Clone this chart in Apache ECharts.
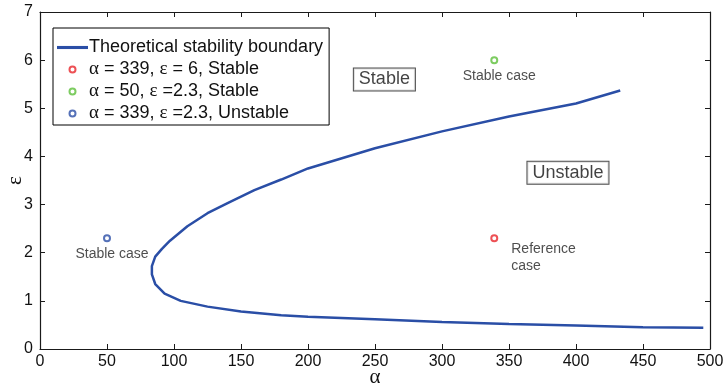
<!DOCTYPE html>
<html>
<head>
<meta charset="utf-8">
<script src="https://cdn.jsdelivr.net/npm/echarts@6/dist/echarts.min.js"></script>
<style>
  html, body { margin: 0; padding: 0; background: #fff; }
  #main { width: 724px; height: 392px; }
</style>
</head>
<body>
<div id="main"></div>
<script>
// boundary curve (alpha, epsilon), lower branch first
var boundaryAlpha = [495, 450, 400, 350, 300, 250, 200, 180, 150, 125, 105, 93, 86, 83.5, 83.5, 86, 91, 97, 110, 125, 140, 160, 180, 200, 250, 300, 350, 400, 433];
var boundaryEps   = [0.44, 0.45, 0.49, 0.52, 0.56, 0.62, 0.67, 0.70, 0.78, 0.88, 1.00, 1.15, 1.35, 1.55, 1.72, 1.92, 2.08, 2.25, 2.55, 2.82, 3.03, 3.30, 3.52, 3.75, 4.17, 4.52, 4.83, 5.10, 5.37];

// the three test cases
var caseNames = ['\u03b1 = 339, \u03b5 = 6, Stable', '\u03b1 = 50, \u03b5 =2.3, Stable', '\u03b1 = 339, \u03b5 =2.3, Unstable'];
var caseColors = ['#e8262a', '#5cbf3a', '#2a4ea6'];
var casePoints = [[339, 2.3], [339, 6], [50, 2.3]];
var caseLabels = ['Reference\ncase', 'Stable case', 'Stable case'];

// region labels
var regionText = ['Stable', 'Unstable'];
var regionPos = [[257, 5.6], [394, 3.66]];

var boundary = boundaryAlpha.map(function (a, i) { return [a, boundaryEps[i]]; });

var chart = echarts.init(document.getElementById('main'));

var caseSeries = caseNames.map(function (name, i) {
    var isRef = i === 0;
    return {
        name: name,
        type: 'scatter',
        symbol: 'emptyCircle',
        symbolSize: 6,
        itemStyle: { color: caseColors[i], borderWidth: 1.5 },
        label: {
            show: true,
            formatter: caseLabels[i],
            position: isRef ? 'right' : 'bottom',
            offset: isRef ? [8, 19] : [5, -2],
            align: isRef ? 'left' : 'center',
            color: '#222',
            fontSize: 14,
            lineHeight: 17,
            fontFamily: 'Liberation Sans'
        },
        data: [casePoints[i]],
        z: 5
    };
});

// greek letters in a serif face, like the original
function greek(s) {
    return s.replace(/([\u03b1\u03b5])/g, '{g|$1}');
}

var axisColor = '#1a1a1a';

chart.setOption({
    animation: false,
    textStyle: { fontFamily: 'Liberation Sans' },
    grid: { left: 40, right: 14, top: 12, bottom: 43, show: false, outerBoundsMode: 'none', containLabel: false },
    legend: {
        data: [{ name: 'Theoretical stability boundary', icon: 'path://M0,0L1,0L1,0.1L0,0.1Z' }].concat(caseNames.map(function (n) {
            return { name: n, icon: 'emptyCircle' };
        })),
        formatter: function (n) { return greek(n); },
        orient: 'vertical',
        left: 53,
        top: 28,
        padding: [10, 6, 2, 4],
        itemGap: 3,
        itemWidth: 31,
        itemHeight: 6,
        borderColor: '#000',
        borderWidth: 1,
        borderRadius: 0,
        backgroundColor: '#fff',
        textStyle: {
            fontSize: 18, color: '#111', padding: [0, 0, 0, -4], lineHeight: 19,
            rich: { g: { fontFamily: 'Liberation Serif', fontSize: 19, color: '#111' } }
        }
    },
    xAxis: [{
        type: 'value', min: 0, max: 500, interval: 50,
        name: '\u03b1', nameLocation: 'middle', nameGap: 28, nameMoveOverlap: false,
        nameTextStyle: { fontSize: 21, color: '#111', fontFamily: 'Liberation Serif', verticalAlign: 'middle' },
        axisLine: { show: true, lineStyle: { color: axisColor, width: 1.2 } },
        axisTick: { inside: true, length: 5, lineStyle: { color: axisColor } },
        axisLabel: { fontSize: 16, color: '#111', margin: 5 },
        splitLine: { show: false }
    }, {
        type: 'value', position: 'top', min: 0, max: 500, interval: 50,
        axisLine: { show: true, onZero: false, lineStyle: { color: axisColor, width: 1.2 } },
        axisTick: { inside: true, length: 5, lineStyle: { color: axisColor } },
        axisLabel: { show: false },
        splitLine: { show: false }
    }],
    yAxis: [{
        type: 'value', min: 0, max: 7, interval: 1,
        name: '\u03b5', nameLocation: 'middle', nameGap: 25, nameRotate: 90, nameMoveOverlap: false,
        nameTextStyle: { fontSize: 21, color: '#111', fontFamily: 'Liberation Serif', verticalAlign: 'middle' },
        axisLine: { show: true, lineStyle: { color: axisColor, width: 1.2 } },
        axisTick: { inside: true, length: 5, lineStyle: { color: axisColor } },
        axisLabel: { fontSize: 16, color: '#111', margin: 7 },
        splitLine: { show: false }
    }, {
        type: 'value', position: 'right', min: 0, max: 7, interval: 1,
        axisLine: { show: true, onZero: false, lineStyle: { color: axisColor, width: 1.2 } },
        axisTick: { inside: true, length: 5, lineStyle: { color: axisColor } },
        axisLabel: { show: false },
        splitLine: { show: false }
    }],
    series: [{
        name: 'Theoretical stability boundary',
        type: 'line',
        data: boundary,
        showSymbol: false,
        smooth: false,
        lineStyle: { color: '#2a4ea6', width: 2.5 },
        itemStyle: { color: '#2a4ea6' },
        z: 3
    }].concat(caseSeries).concat([{
        name: 'regions',
        type: 'scatter',
        symbolSize: 0,
        data: regionPos,
        silent: true,
        label: {
            show: true,
            position: 'inside',
            formatter: function (p) { return regionText[p.dataIndex]; },
            fontSize: 18,
            color: '#111',
            backgroundColor: '#fff',
            borderColor: '#222',
            borderWidth: 1,
            padding: [3, 5, 1, 5]
        }
    }])
});
</script>
</body>
</html>
